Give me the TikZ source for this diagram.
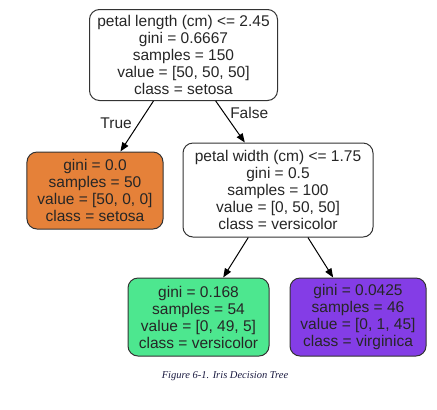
\documentclass[tikz,border=0pt]{standalone}
\usepackage{fontspec}
\setmainfont{Liberation Sans}
\newfontfamily\capfont{Liberation Serif}
\usetikzlibrary{arrows.meta}

\definecolor{setosacol}{HTML}{E58139}
\definecolor{versicol}{HTML}{4DE78F}
\definecolor{virgincol}{HTML}{843DE6}
\definecolor{capcol}{HTML}{1A1A40}

\tikzset{
  treenode/.style={draw=black!80, line width=1bp, rounded corners=10bp,
    align=center, inner sep=0pt, text=black!85,
    font=\fontsize{15.5bp}{17bp}\selectfont},
  treeedge/.style={line width=1bp, -{Triangle[length=9bp,width=7bp]}},
  edgelabel/.style={font=\fontsize{15.5bp}{17bp}\selectfont, text=black!85}
}

\begin{document}
\begin{tikzpicture}[x=1bp, y=-1bp]

\useasboundingbox (0,0) rectangle (437,409);

% Root split
\node[treenode, minimum width=188bp, minimum height=91bp] (root) at (183.5,55)
  {petal length (cm) <= 2.45\\gini = 0.6667\\samples = 150\\value = [50, 50, 50]\\class = setosa};

% Setosa leaf
\node[treenode, fill=setosacol, minimum width=136bp, minimum height=77bp] (setosa) at (95,190.5)
  {gini = 0.0\\samples = 50\\value = [50, 0, 0]\\class = setosa};

% Second split
\node[treenode, fill=white, minimum width=190bp, minimum height=94bp] (split) at (278,190)
  {petal width (cm) <= 1.75\\gini = 0.5\\samples = 100\\value = [0, 50, 50]\\class = versicolor};

% Versicolor leaf
\node[treenode, fill=versicol, minimum width=141bp, minimum height=78bp] (versi) at (198.5,317)
  {gini = 0.168\\samples = 54\\value = [0, 49, 5]\\class = versicolor};

% Virginica leaf
\node[treenode, fill=virgincol, minimum width=136bp, minimum height=78bp] (virgin) at (358,317)
  {gini = 0.0425\\samples = 46\\value = [0, 1, 45]\\class = virginica};

% Edges
\draw[treeedge] (root) -- node[edgelabel, pos=0.45, left=3bp] {True} (setosa);
\draw[treeedge] (root) -- node[edgelabel, pos=0.3, right=2bp] {False} (split);
\draw[treeedge] (split) -- (versi);
\draw[treeedge] (split) -- (virgin);

% Caption
\node[font=\capfont\itshape\fontsize{10.5bp}{12bp}\selectfont, text=capcol] (caption) at (225,376)
  {Figure 6-1. Iris Decision Tree};

\end{tikzpicture}
\end{document}
